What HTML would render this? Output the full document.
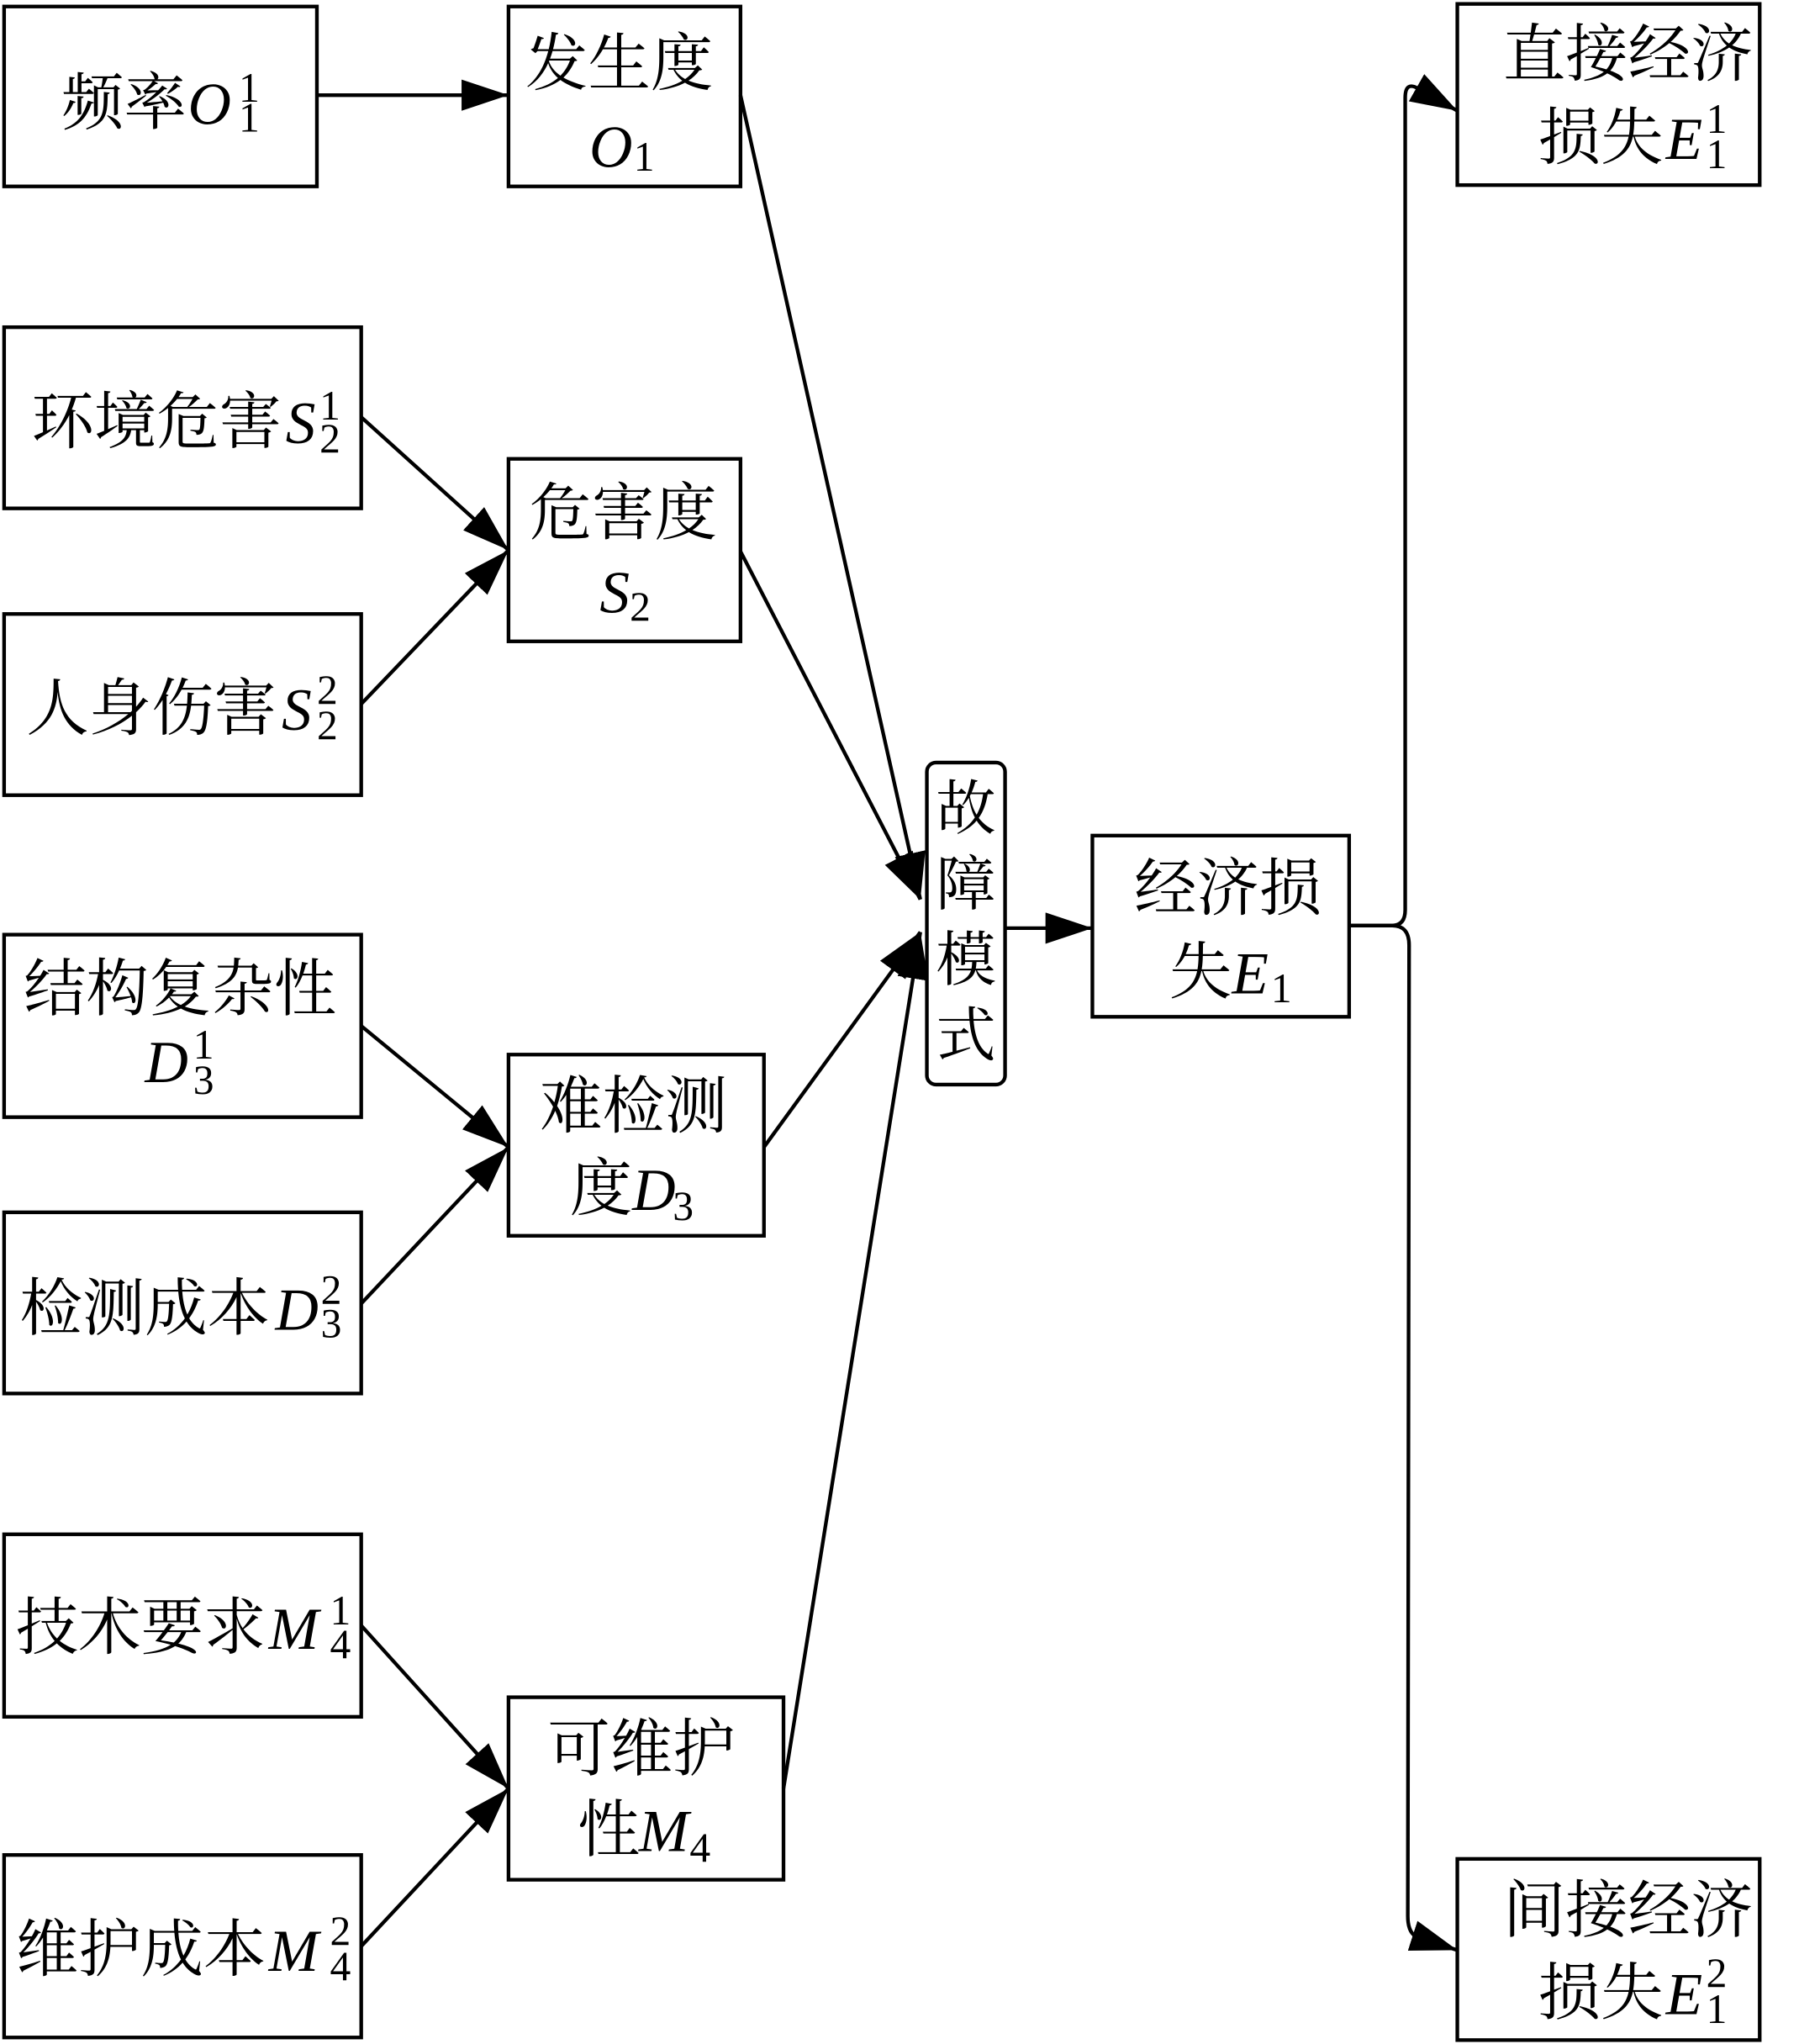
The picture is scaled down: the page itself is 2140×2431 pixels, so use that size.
<!DOCTYPE html>
<html><head><meta charset="utf-8"><style>
html,body{margin:0;padding:0;background:#fff;}
svg{display:block;}
.c{font-family:"Liberation Serif","Noto Serif CJK SC",serif;font-size:48px;fill:#000;}
.m{font-family:"Liberation Serif",serif;font-style:italic;font-size:46px;fill:#000;}
.s{font-family:"Liberation Serif",serif;font-size:32px;fill:#000;}
</style></head><body>
<svg width="2140" height="2431" viewBox="0 0 1380 1568" xmlns="http://www.w3.org/2000/svg">
<defs>
<marker id="a" markerUnits="userSpaceOnUse" markerWidth="40" markerHeight="30" refX="36" refY="12" orient="auto">
<path d="M0,0 L36,12 L0,24 Z" fill="#000"/>
</marker>
</defs>
<g fill="none" stroke="#000" stroke-width="2.8">
<rect x="3" y="5" width="240" height="138"/>
<rect x="390" y="5" width="178" height="138"/>
<rect x="3" y="251" width="274" height="139"/>
<rect x="390" y="352" width="178" height="140"/>
<rect x="3" y="471" width="274" height="139"/>
<rect x="711" y="585" width="60" height="247" rx="7"/>
<rect x="838" y="641" width="197" height="139"/>
<rect x="3" y="717" width="274" height="140"/>
<rect x="390" y="809" width="196" height="139"/>
<rect x="3" y="930" width="274" height="139"/>
<rect x="3" y="1177" width="274" height="140"/>
<rect x="390" y="1302" width="211" height="140"/>
<rect x="3" y="1423" width="274" height="140"/>
<rect x="1118" y="3" width="232" height="139"/>
<rect x="1118" y="1426" width="232" height="139"/>
</g>
<g fill="none" stroke="#000" stroke-width="2.8" marker-end="url(#a)">
<line x1="243" y1="73" x2="390" y2="73"/>
<line x1="277" y1="320" x2="390" y2="422"/>
<line x1="277" y1="540" x2="390" y2="422"/>
<line x1="277" y1="787" x2="390" y2="880"/>
<line x1="277" y1="1000" x2="390" y2="880"/>
<line x1="277" y1="1247" x2="390" y2="1372"/>
<line x1="277" y1="1493" x2="390" y2="1372"/>
<line x1="568" y1="73" x2="706" y2="690"/>
<line x1="568" y1="423" x2="706" y2="690"/>
<line x1="586" y1="880" x2="706" y2="715"/>
<line x1="601" y1="1372" x2="706" y2="715"/>
<line x1="771" y1="712" x2="838" y2="712"/>
<path d="M1035,710 L1068,710 Q1078,710 1078,698 L1078,75 Q1078,62 1088,68 L1118,85"/>
<path d="M1035,710 L1068,710 Q1081,710 1081,725 L1080,1470 Q1080,1485 1090,1487 L1118,1496"/>
</g>
<text class="c" x="47" y="95">频率</text><text class="m" x="144" y="95">O</text>
<text class="s" x="183" y="78">1</text><text class="s" x="183" y="101">1</text>
<text class="c" x="403" y="65">发生度</text><text class="m" x="452" y="128">O</text><text class="s" x="486" y="131">1</text>
<text class="c" x="24" y="340">环境危害</text><text class="m" x="219" y="340">S</text>
<text class="s" x="245" y="322">1</text><text class="s" x="245" y="347">2</text>
<text class="c" x="406" y="410">危害度</text><text class="m" x="460" y="470">S</text><text class="s" x="483" y="476">2</text>
<text class="c" x="20" y="560">人身伤害</text><text class="m" x="216" y="560">S</text>
<text class="s" x="243" y="540">2</text><text class="s" x="243" y="567">2</text>
<text class="c" x="18" y="775">结构复杂性</text><text class="m" x="111" y="830">D</text>
<text class="s" x="148" y="812">1</text><text class="s" x="148" y="839">3</text>
<text class="c" x="414" y="865">难检测</text><text class="c" x="437" y="928">度</text><text class="m" x="485" y="928">D</text><text class="s" x="516" y="936">3</text>
<text class="c" x="15" y="1020">检测成本</text><text class="m" x="211" y="1020">D</text>
<text class="s" x="246" y="1000">2</text><text class="s" x="246" y="1026">3</text>
<text class="c" x="12" y="1265">技术要求</text><text class="m" x="206" y="1265">M</text>
<text class="s" x="253" y="1246">1</text><text class="s" x="253" y="1272">4</text>
<text class="c" x="420" y="1358">可维护</text><text class="c" x="443" y="1420">性</text><text class="m" x="490" y="1420">M</text><text class="s" x="529" y="1428">4</text>
<text class="c" x="12" y="1512">维护成本</text><text class="m" x="206" y="1512">M</text>
<text class="s" x="253" y="1492">2</text><text class="s" x="253" y="1519">4</text>
<text class="c" x="741" y="636" text-anchor="middle" style="font-size:46px">故</text>
<text class="c" x="741" y="694" text-anchor="middle" style="font-size:46px">障</text>
<text class="c" x="741" y="752" text-anchor="middle" style="font-size:46px">模</text>
<text class="c" x="741" y="810" text-anchor="middle" style="font-size:46px">式</text>
<text class="c" x="870" y="698">经济损</text><text class="c" x="897" y="762">失</text><text class="m" x="945" y="762">E</text><text class="s" x="975" y="769">1</text>
<text class="c" x="1153" y="58">直接经济</text><text class="c" x="1180" y="122">损失</text><text class="m" x="1278" y="122">E</text>
<text class="s" x="1309" y="102">1</text><text class="s" x="1309" y="129">1</text>
<text class="c" x="1153" y="1482">间接经济</text><text class="c" x="1180" y="1545">损失</text><text class="m" x="1278" y="1545">E</text>
<text class="s" x="1309" y="1524">2</text><text class="s" x="1309" y="1552">1</text>
</svg>
</body></html>
